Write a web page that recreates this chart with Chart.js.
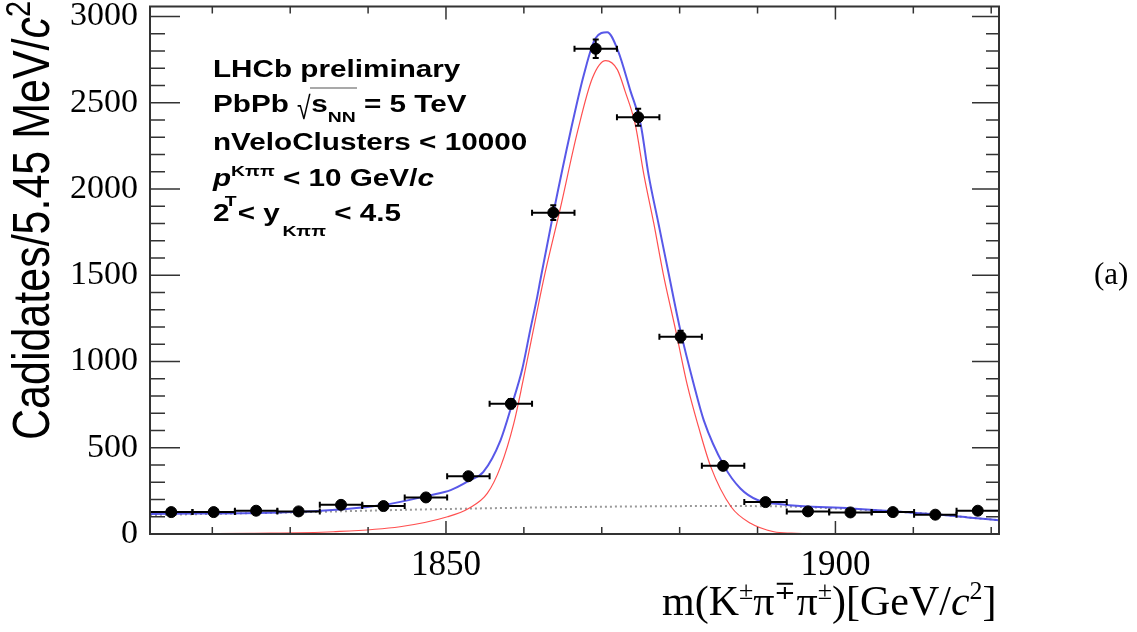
<!DOCTYPE html>
<html>
<head>
<meta charset="utf-8">
<script src="https://cdn.jsdelivr.net/npm/chart.js@4.4.1/dist/chart.umd.min.js"></script>
<style>
html, body { margin: 0; padding: 0; background: #fff; }
</style>
</head>
<body>
<canvas id="chart" width="1137" height="632"></canvas>
<script>
// bin centres (5.45 MeV bins from 1812 to 1921)
const binCenters = [1814.725, 1820.175, 1825.625, 1831.075, 1836.525, 1841.975, 1847.425, 1852.875, 1858.325, 1863.775,
                    1869.225, 1874.675, 1880.125, 1885.575, 1891.025, 1896.475, 1901.925, 1907.375, 1912.825, 1918.275];
const binHalfWidth = 2.725;
const counts = [127, 127, 135, 131, 169, 162, 212, 335, 755, 1863, 2813, 2416, 1144, 395, 185, 131, 125, 127, 112, 135];
const countErrors = [11, 11, 12, 11, 13, 13, 15, 18, 27, 43, 53, 49, 34, 20, 14, 11, 11, 11, 11, 12];

// total fit (blue)
const totalMass = [1812.0, 1831.3, 1841.9, 1848.0, 1850.6, 1853.1, 1854.8, 1857.0, 1858.5, 1859.8, 1860.8, 1861.7, 1862.1,
                   1863.8, 1866.0, 1867.7, 1869.2, 1870.7, 1872.1, 1873.7, 1875.0, 1876.0, 1877.3, 1878.6, 1880.1,
                   1881.8, 1883.1, 1885.7, 1887.8, 1890.0, 1893.0, 1902.0, 1908.4, 1912.9, 1917.0, 1921.0];
const totalFit  = [116, 129, 168, 225, 254, 312, 360, 543, 755, 958, 1179, 1372, 1468,
                   1863, 2335, 2663, 2874, 2909, 2800, 2566, 2374, 2085, 1796, 1507, 1179,
                   870, 659, 395, 264, 197, 172, 148, 129, 114, 96, 80];

// signal (red)
const signalMass = [1812.0, 1824.9, 1835.5, 1844.1, 1850.2, 1852.9, 1855.3, 1857.0, 1858.7, 1859.9, 1861.2, 1862.5,
                    1864.7, 1866.9, 1868.8, 1870.5, 1872.0, 1873.0, 1874.3, 1875.4, 1876.7, 1877.9, 1879.5, 1881.0,
                    1882.4, 1884.0, 1886.6, 1889.1, 1892.1, 1894.3, 1902.0, 1921.0];
const signalFit  = [0, 4, 13, 42, 100, 148, 235, 389, 640, 890, 1179, 1468,
                    1892, 2335, 2643, 2744, 2692, 2566, 2374, 2085, 1796, 1507, 1179, 860,
                    625, 389, 158, 62, 13, 5, 0, 0];

// combinatorial background (grey dotted)
const bkgMass = [1812, 1830, 1850, 1870, 1885, 1893, 1900, 1908, 1913, 1917, 1921];
const bkgFit  = [110, 125, 145, 158, 162, 160, 148, 129, 114, 96, 80];

const xLabelTicks = [1850, 1900];
const yLabelTicks = [0, 500, 1000, 1500, 2000, 2500, 3000];

function pts(xs, ys) {
	return xs.map((m, i) => ({ x: m, y: ys[i] }));
}

// draws a row of text pieces, each with its own font and vertical shift
function drawRuns(ctx, x, y, runs) {
	let cx = x;
	runs.forEach(r => {
		ctx.font = r.font;
		ctx.fillText(r.text, cx + (r.dx || 0), y + (r.dy || 0));
		if (!r.stay) cx += ctx.measureText(r.text).width + (r.dx || 0);
	});
	return cx;
}

const frame = {
	id: 'frame',
	afterDatasetsDraw(chart) {
		const { ctx, scales: { x, y } } = chart;
		ctx.save();
		ctx.strokeStyle = '#000';
		ctx.lineWidth = 2;
		binCenters.forEach((m, i) => {
			const px = x.getPixelForValue(m);
			const py = y.getPixelForValue(counts[i]);
			const x0 = x.getPixelForValue(m - binHalfWidth);
			const x1 = x.getPixelForValue(m + binHalfWidth);
			const y0 = y.getPixelForValue(counts[i] - countErrors[i]);
			const y1 = y.getPixelForValue(counts[i] + countErrors[i]);
			ctx.beginPath();
			ctx.moveTo(x0, py); ctx.lineTo(x1, py);
			ctx.moveTo(x0, py - 3); ctx.lineTo(x0, py + 3);
			ctx.moveTo(x1, py - 3); ctx.lineTo(x1, py + 3);
			ctx.moveTo(px, y0); ctx.lineTo(px, y1);
			ctx.moveTo(px - 3, y0); ctx.lineTo(px + 3, y0);
			ctx.moveTo(px - 3, y1); ctx.lineTo(px + 3, y1);
			ctx.stroke();
		});
		ctx.restore();
	},
	afterDraw(chart) {
		const { ctx, chartArea: a, scales: { x, y } } = chart;
		ctx.save();
		// frame + inward ticks on all four sides
		ctx.strokeStyle = '#333';
		ctx.lineWidth = 2;
		ctx.strokeRect(a.left, a.top, a.right - a.left, a.bottom - a.top);
		ctx.lineWidth = 1.5;
		ctx.beginPath();
		for (let v = 0; v <= 3000; v += 100) {
			const py = y.getPixelForValue(v);
			const big = v % 500 === 0;
			ctx.moveTo(a.left, py); ctx.lineTo(a.left + (big ? 30 : 15), py);
			ctx.moveTo(a.right, py); ctx.lineTo(a.right - (big ? 27 : 13), py);
		}
		for (let m = 1820; m <= 1920; m += 10) {
			const px = x.getPixelForValue(m);
			const big = m % 50 === 0;
			ctx.moveTo(px, a.bottom); ctx.lineTo(px, a.bottom - (big ? 13 : 7));
			ctx.moveTo(px, a.top); ctx.lineTo(px, a.top + (big ? 13 : 7));
		}
		ctx.stroke();

		ctx.fillStyle = '#000';
		ctx.textAlign = 'left';
		ctx.textBaseline = 'alphabetic';

		// LHCb label block (sans bold, a little wide like the original)
		const B = 'bold 23px "Liberation Sans", Arial, sans-serif';
		const BI = 'italic bold 23px "Liberation Sans", Arial, sans-serif';
		const S = 'bold 15px "Liberation Sans", Arial, sans-serif';
		const R = '32px "Liberation Sans", Arial, sans-serif';
		ctx.save();
		ctx.translate(213, 0);
		ctx.scale(1.29, 1);
		drawRuns(ctx, 0, 77, [{ text: 'LHCb preliminary', font: B }]);
		let ex = drawRuns(ctx, 0, 112, [{ text: 'PbPb ', font: B }]);
		ctx.save();
		ctx.scale(0.6, 1);
		ctx.font = R;
		ctx.fillText('\u221A', ex / 0.6, 119);
		ctx.restore();
		ex += 11;
		let ex2 = drawRuns(ctx, ex, 112, [{ text: 's', font: B }, { text: 'NN', font: S, dy: 10 }]);
		ctx.lineWidth = 1;
		ctx.strokeStyle = '#555';
		ctx.beginPath(); ctx.moveTo(ex - 1, 88); ctx.lineTo(ex2 + 1, 88); ctx.stroke();
		drawRuns(ctx, ex2, 112, [{ text: ' = 5 TeV', font: B }]);
		drawRuns(ctx, 0, 150, [{ text: 'nVeloClusters < 10000', font: B }]);
		drawRuns(ctx, 0, 186, [
			{ text: 'p', font: BI },
			{ text: 'T', font: S, dy: 20, dx: -5, stay: true },
			{ text: 'K\u03C0\u03C0', font: S, dy: -10 },
			{ text: ' < 10 GeV/', font: B },
			{ text: 'c', font: BI }
		]);
		drawRuns(ctx, 0, 221, [
			{ text: '2 < y', font: B },
			{ text: 'K\u03C0\u03C0', font: S, dy: 15, dx: 2 },
			{ text: ' < 4.5', font: B }
		]);
		ctx.restore();

		// y-axis title, rotated
		ctx.save();
		ctx.translate(49, 440);
		ctx.scale(1.2, 1);
		ctx.rotate(-Math.PI / 2);
		drawRuns(ctx, 0, 0, [
			{ text: 'Cadidates/5.45 MeV/', font: '43px "Liberation Sans", Arial, sans-serif' },
			{ text: 'c', font: 'italic 43px "Liberation Sans", Arial, sans-serif' },
			{ text: '2', font: '29px "Liberation Sans", Arial, sans-serif', dy: -16 }
		]);
		ctx.restore();

		// x-axis title
		const T = '42px "Liberation Serif", "Times New Roman", serif';
		const TS = '26px "Liberation Serif", "Times New Roman", serif';
		const TI = 'italic 42px "Liberation Serif", "Times New Roman", serif';
		drawRuns(ctx, 662, 615, [
			{ text: 'm(K', font: T },
			{ text: '\u00B1', font: TS, dy: -16 },
			{ text: '\u03C0', font: T },
			{ text: '\u2213', font: TS, dy: -16 },
			{ text: '\u03C0', font: T },
			{ text: '\u00B1', font: TS, dy: -16 },
			{ text: ')[GeV/', font: T },
			{ text: 'c', font: TI },
			{ text: '2', font: TS, dy: -16 },
			{ text: ']', font: T }
		]);

		// panel tag
		ctx.font = '31px "Liberation Serif", "Times New Roman", serif';
		ctx.fillText('(a)', 1094, 284);
		ctx.restore();
	}
};

new Chart(document.getElementById('chart'), {
	type: 'scatter',
	data: {
		datasets: [
			{
				label: 'data',
				data: pts(binCenters, counts),
				showLine: false,
				pointRadius: 5.5,
				pointHoverRadius: 5.5,
				pointBackgroundColor: '#000',
				pointBorderColor: '#000',
				order: 0
			},
			{
				label: 'total',
				data: pts(totalMass, totalFit),
				showLine: true,
				cubicInterpolationMode: 'monotone',
				borderColor: 'rgba(70,70,230,0.9)',
				borderWidth: 2,
				pointRadius: 0,
				order: 1
			},
			{
				label: 'signal',
				data: pts(signalMass, signalFit),
				showLine: true,
				cubicInterpolationMode: 'monotone',
				borderColor: 'rgba(255,60,60,0.9)',
				borderWidth: 1.2,
				pointRadius: 0,
				order: 2
			},
			{
				label: 'background',
				data: pts(bkgMass, bkgFit),
				showLine: true,
				cubicInterpolationMode: 'monotone',
				borderColor: '#999',
				borderWidth: 2,
				borderDash: [2, 3],
				pointRadius: 0,
				order: 3
			}
		]
	},
	options: {
		responsive: false,
		animation: false,
		events: [],
		layout: { padding: { left: 0, top: 5, right: 138, bottom: 0 } },
		plugins: {
			legend: { display: false },
			tooltip: { enabled: false }
		},
		scales: {
			x: {
				type: 'linear',
				min: 1812,
				max: 1921,
				afterFit: s => { s.height = 98; s.paddingLeft = 0; s.paddingRight = 0; },
				afterBuildTicks: s => { s.ticks = xLabelTicks.map(v => ({ value: v })); },
				grid: { display: false, drawTicks: false },
				border: { display: false },
				ticks: {
					autoSkip: false,
					maxRotation: 0,
					padding: 11,
					color: '#000',
					callback: v => String(v),
					font: { family: '"Liberation Serif", "Times New Roman", serif', size: 35 }
				}
			},
			y: {
				min: 0,
				max: 3058,
				afterFit: s => { s.width = 150; s.paddingTop = 0; s.paddingBottom = 0; },
				afterBuildTicks: s => { s.ticks = yLabelTicks.map(v => ({ value: v })); },
				grid: { display: false, drawTicks: false },
				border: { display: false },
				ticks: {
					padding: 12,
					color: '#000',
					callback: v => String(v),
					font: { family: '"Liberation Serif", "Times New Roman", serif', size: 34, lineHeight: 0.3 }
				}
			}
		}
	},
	plugins: [frame]
});
</script>
</body>
</html>
